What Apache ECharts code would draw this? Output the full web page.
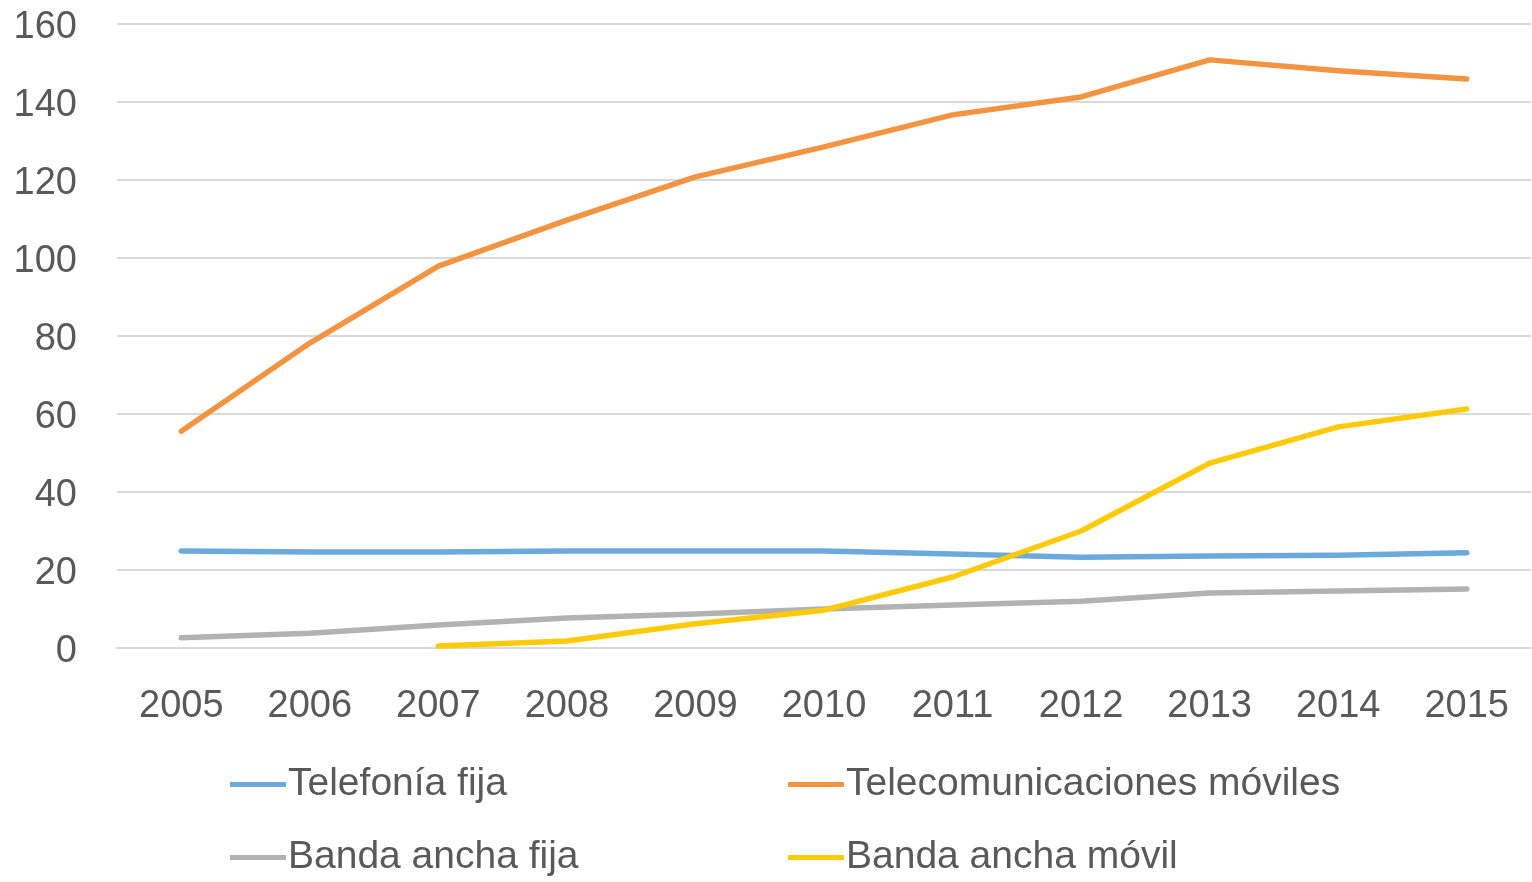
<!DOCTYPE html>
<html><head><meta charset="utf-8">
<script src="https://cdn.jsdelivr.net/npm/echarts@6/dist/echarts.min.js"></script>
<style>html,body{margin:0;padding:0;background:#fff;}#c{width:1532px;height:882px;}</style>
</head><body><div id="c"></div>
<script>
const years = ['2005','2006','2007','2008','2009','2010','2011','2012','2013','2014','2015'];
const telefoniaFija = [24.9, 24.6, 24.6, 24.9, 24.9, 24.9, 24.1, 23.3, 23.6, 23.8, 24.4];
const telecomMoviles = [55.6, 78.2, 97.9, 109.7, 120.8, 128.5, 136.7, 141.3, 150.8, 148.0, 145.9];
const bandaAnchaFija = [2.6, 3.8, 5.9, 7.7, 8.7, 10.0, 11.0, 12.0, 14.1, 14.6, 15.1];
const bandaAnchaMovil = [null, null, 0.5, 1.8, 6.2, 9.7, 18.2, 30.0, 47.4, 56.7, 61.3];
const names = ['Telefonía fija','Telecomunicaciones móviles','Banda ancha fija','Banda ancha móvil'];
const colors = ['#6CA9DC','#F29441','#B2B2B2','#FFCA08'];
const FONT = 'Liberation Sans';
const chart = echarts.init(document.getElementById('c'));
function lg(i, left, top){
  return {data:[names[i]], left:left, top:top, icon:'rect', itemWidth:56, itemHeight:5, itemGap:0,
    textStyle:{fontFamily:FONT, fontSize:39, color:'#595959', padding:[0,0,0,-3]}};
}
chart.setOption({
  animation:false,
  color: colors,
  grid:{left:117, right:1, top:24, bottom:234},
  legend:[lg(0,225,760), lg(1,783,760), lg(2,225,833), lg(3,783,833)],
  xAxis:{type:'category', data:years, boundaryGap:true,
    axisLine:{lineStyle:{color:'#D9D9D9', width:2}}, axisTick:{show:false},
    axisLabel:{fontFamily:FONT, fontSize:38, color:'#595959', margin:40}},
  yAxis:{type:'value', min:0, max:160, interval:20,
    axisLine:{show:false}, axisTick:{show:false},
    splitLine:{lineStyle:{color:'#D9D9D9', width:2}},
    axisLabel:{fontFamily:FONT, fontSize:38, color:'#595959', margin:40, verticalAlign:'top', lineHeight:8}},
  series:[
    {name:names[0], type:'line', data:telefoniaFija, symbol:'none', lineStyle:{width:5.5, cap:'round', join:'round'}},
    {name:names[1], type:'line', data:telecomMoviles, symbol:'none', lineStyle:{width:5.5, cap:'round', join:'round'}},
    {name:names[2], type:'line', data:bandaAnchaFija, symbol:'none', lineStyle:{width:5.5, cap:'round', join:'round'}},
    {name:names[3], type:'line', data:bandaAnchaMovil, symbol:'none', lineStyle:{width:5.5, cap:'round', join:'round'}}
  ]
});
</script></body></html>
